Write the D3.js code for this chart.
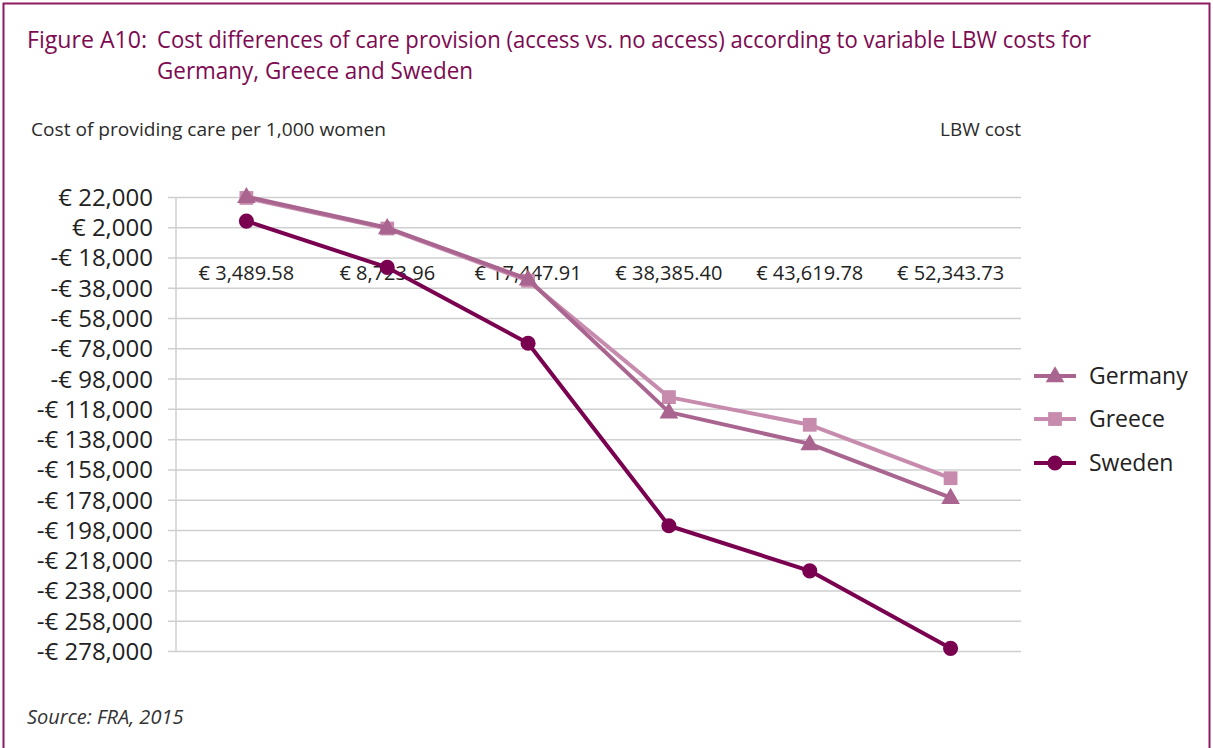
<!DOCTYPE html>
<html>
<head>
<meta charset="utf-8">
<script src="https://cdn.jsdelivr.net/npm/d3@7"></script>
<style>
  html, body { margin: 0; padding: 0; background: #fff; }
  svg { display: block; }
  text { font-family: "Open Sans", "Noto Sans", sans-serif; }
</style>
</head>
<body>
<svg id="chart" width="1213" height="748"></svg>
<script>
// LBW cost scenarios (category axis)
const categories = ["€ 3,489.58", "€ 8,723.96", "€ 17,447.91", "€ 38,385.40", "€ 43,619.78", "€ 52,343.73"];
// Cost difference of providing care per 1,000 women (access vs. no access)
const germany = [22500, 2000, -32000, -119800, -140800, -176300];
const greece  = [21700, 1500, -33000, -109900, -128200, -163500];
const sweden  = [6400, -24200, -74300, -194900, -224700, -275900];
// Value axis ticks
const yTicks = [22000, 2000, -18000, -38000, -58000, -78000, -98000, -118000, -138000,
                -158000, -178000, -198000, -218000, -238000, -258000, -278000];

const series = [
  { name: "Germany", values: germany, color: "#a9648f", marker: "triangle" },
  { name: "Greece",  values: greece,  color: "#c78cad", marker: "square" },
  { name: "Sweden",  values: sweden,  color: "#7a0050", marker: "circle" }
];

const svg = d3.select("#chart");
const purple = "#7d0a52";

// frame
svg.append("rect")
  .attr("x", 3.5).attr("y", 3.5).attr("width", 1206).attr("height", 780)
  .attr("fill", "none").attr("stroke", "#8c1b60").attr("stroke-width", 2);

// title: label and hanging-indent text
const title = svg.append("g").attr("fill", purple).style("font-size", "24px");
title.append("text").attr("x", 27).attr("y", 48)
  .attr("textLength", 120).attr("lengthAdjust", "spacingAndGlyphs")
  .text("Figure A10:");
title.append("text").attr("x", 157).attr("y", 48)
  .attr("textLength", 934).attr("lengthAdjust", "spacingAndGlyphs")
  .text("Cost differences of care provision (access vs. no access) according to variable LBW costs for");
title.append("text").attr("x", 157).attr("y", 79)
  .attr("textLength", 316).attr("lengthAdjust", "spacingAndGlyphs")
  .text("Germany, Greece and Sweden");

svg.append("text").attr("x", 31).attr("y", 136)
  .attr("fill", "#2b2b2b").style("font-size", "19px")
  .attr("textLength", 355).attr("lengthAdjust", "spacingAndGlyphs")
  .text("Cost of providing care per 1,000 women");
svg.append("text").attr("x", 1021).attr("y", 136).attr("text-anchor", "end")
  .attr("fill", "#2b2b2b").style("font-size", "19px")
  .text("LBW cost");

// scales
const x = d3.scaleBand().domain(categories).range([176, 1021]);
const y = d3.scaleLinear().domain([-278000, 22000]).range([651.5, 197.5]);
const cx = d => x(d) + x.bandwidth() / 2;

// gridlines and tick marks
svg.append("g").selectAll("line").data(yTicks).join("line")
  .attr("x1", 168).attr("x2", 1021)
  .attr("y1", d => y(d)).attr("y2", d => y(d))
  .attr("stroke", "#cfcfcf").attr("stroke-width", 1.5);
svg.append("line")
  .attr("x1", 176).attr("x2", 176).attr("y1", y(22000)).attr("y2", y(-278000))
  .attr("stroke", "#cfcfcf").attr("stroke-width", 1.5);

// value axis labels
const fmt = d3.format(",");
svg.append("g").selectAll("text").data(yTicks).join("text")
  .attr("x", 153).attr("y", d => y(d)).attr("dy", "0.35em")
  .attr("text-anchor", "end").attr("fill", "#222").style("font-size", "24px")
  .text(d => (d < 0 ? "-€ " : "€ ") + fmt(Math.abs(d)));

// category labels
svg.append("g").selectAll("text").data(categories).join("text")
  .attr("x", d => cx(d)).attr("y", 273).attr("dy", "0.35em")
  .attr("text-anchor", "middle").attr("fill", "#222").style("font-size", "20px")
  .text(d => d);

// marker symbols
const symbolFor = {
  triangle: d3.symbol().type(d3.symbolTriangle).size(150),
  square: d3.symbol().type(d3.symbolSquare).size(190),
  circle: d3.symbol().type(d3.symbolCircle).size(180)
};

const line = d3.line().x((d, i) => cx(categories[i])).y(d => y(d));

// draw Greece first, then Germany on top, then Sweden
const drawOrder = [series[1], series[0], series[2]];
drawOrder.forEach(s => {
  const g = svg.append("g");
  g.append("path").datum(s.values)
    .attr("d", line).attr("fill", "none")
    .attr("stroke", s.color).attr("stroke-width", 4)
    .attr("stroke-linejoin", "round");
  g.selectAll("path.m").data(s.values).join("path").attr("class", "m")
    .attr("transform", (d, i) => `translate(${cx(categories[i])},${y(d) + (s.marker === "triangle" ? 1 : 0)})`)
    .attr("d", symbolFor[s.marker]())
    .attr("fill", s.color);
});

// legend
const legend = svg.append("g");
const legendY = [376, 419, 463];
series.forEach((s, i) => {
  const g = legend.append("g").attr("transform", `translate(0,${legendY[i]})`);
  g.append("line").attr("x1", 1034).attr("x2", 1076).attr("y1", 0).attr("y2", 0)
    .attr("stroke", s.color).attr("stroke-width", 4);
  g.append("path").attr("transform", `translate(1055,${s.marker === "triangle" ? 1 : 0})`)
    .attr("d", symbolFor[s.marker]()).attr("fill", s.color);
  g.append("text").attr("x", 1089).attr("y", 0).attr("dy", "0.35em")
    .attr("fill", "#222").style("font-size", "23px").text(s.name);
});

// source
svg.append("text").attr("x", 27).attr("y", 724)
  .attr("fill", "#333").style("font-size", "20px").style("font-style", "italic")
  .text("Source: FRA, 2015");
</script>
</body>
</html>
